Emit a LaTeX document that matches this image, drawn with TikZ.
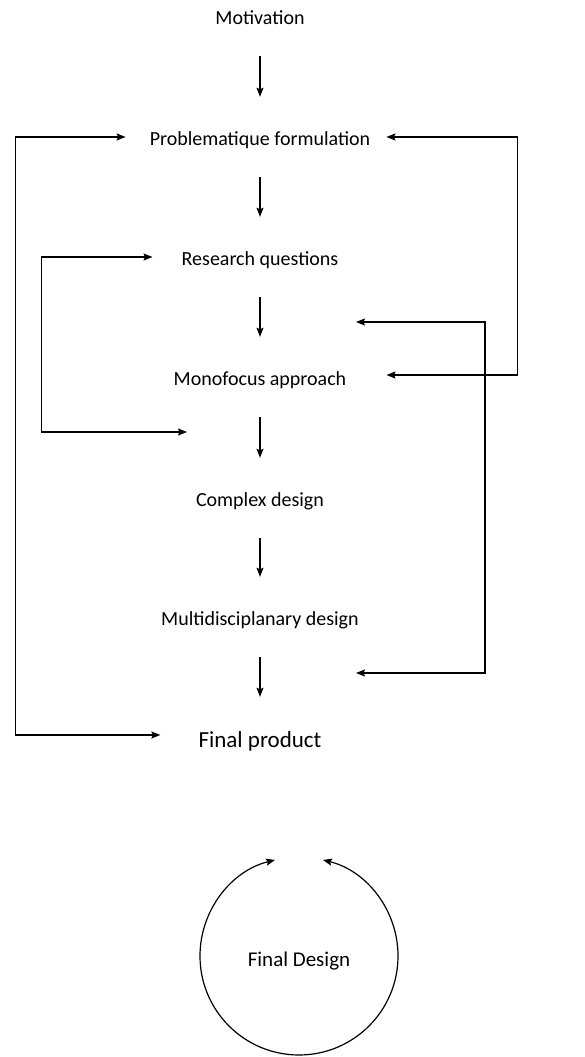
\documentclass[tikz,border=0pt]{standalone}
\usepackage{fontspec}
\setmainfont{Carlito}
\usepackage{tikz}
\usetikzlibrary{arrows.meta}

\begin{document}
\begin{tikzpicture}[x=1pt, y=1pt,
    txt/.style={inner sep=0pt, anchor=base, text height=18pt, text depth=0pt, font=\fontsize{20}{24}\selectfont},
    down/.style={line width=1.2pt, -{Stealth[length=9pt, width=7pt, inset=1.5pt]}, shorten <=31pt, shorten >=31pt},
    back/.style={line width=1.2pt, {Stealth[length=9pt, width=7pt, inset=1.5pt]}-{Stealth[length=9pt, width=7pt, inset=1.5pt]}},
    ring/.style={line width=1.2pt, -{Stealth[length=9pt, width=7pt, inset=1.5pt]}}]
        \useasboundingbox (0,0) rectangle (585,1057);
        \node[txt] (mot) at (260,1032) {Motivation};
        \node[txt] (prob) at (260,911) {Problematique formulation};
        \node[txt] (rq) at (260,791) {Research questions};
        \node[txt] (mono) at (260,671) {Monofocus approach};
        \node[txt] (cplx) at (260,550) {Complex design};
        \node[txt] (multi) at (260,431) {Multidisciplanary design};
        \node[txt, text height=20pt, font=\fontsize{23}{28}\selectfont] (fin) at (260,309) {Final product};
        \node[txt, font=\fontsize{21}{25}\selectfont] (fd) at (299,90) {Final Design};
        \foreach \a/\b in {mot/prob, prob/rq, rq/mono, mono/cplx, cplx/multi, multi/fin}
            \draw[down] (\a.south) -- (\b.north);
        \coordinate (gapA) at (187,625);
        \coordinate (gapB) at (356,735);
        \coordinate (gapC) at (356,384);
        \draw[back] ([xshift=-24pt]prob.west) -- ++(-110,0) |- ([xshift=-38pt, yshift=3pt]fin.west);
        \draw[back] ([xshift=-29pt]rq.west) -- ++(-111,0) |- (gapA);
        \draw[back] ([xshift=16pt]prob.east) -- ++(131,0) |- ([xshift=40pt, yshift=2pt]mono.east);
        \draw[back] (gapB) -- ++(129,0) |- (gapC);
        \coordinate (cbot) at (299,2);
        \draw[ring] (cbot) arc[start angle=270, end angle=104, radius=99];
        \draw[ring] (cbot) arc[start angle=-90, end angle=76, radius=99];
    \end{tikzpicture}
\end{document}
